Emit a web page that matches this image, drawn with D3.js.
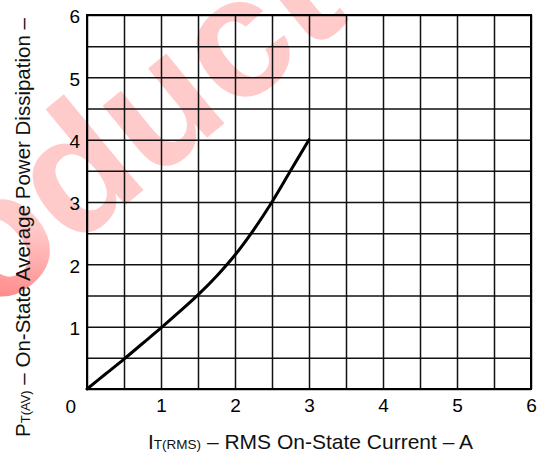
<!DOCTYPE html>
<html>
<head>
<meta charset="utf-8">
<script src="https://cdn.jsdelivr.net/npm/d3@7"></script>
<style>
  body { margin: 0; background: #fff; }
  svg { display: block; font-family: "Liberation Sans", Arial, sans-serif; }
</style>
</head>
<body>
<svg width="539" height="460"></svg>
<script>
// curve: RMS on-state current (A) vs average power (W)
const current = [0, 0.25, 0.5, 0.75, 1, 1.25, 1.5, 1.75, 2, 2.25, 2.5, 2.75, 3];
const power = [0, 0.24, 0.48, 0.73, 0.98, 1.24, 1.51, 1.81, 2.15, 2.55, 3.0, 3.5, 4.0];

const xTickLabels = [1, 2, 3, 4, 5, 6];
const yTickLabels = [1, 2, 3, 4, 5, 6];
const gridSteps = d3.range(0, 6.01, 0.5);

const svg = d3.select("svg");
const width = 539;
const height = 460;

const margin = { top: 15, right: 8, bottom: 71, left: 87 };
const innerWidth = width - margin.left - margin.right;
const innerHeight = height - margin.top - margin.bottom;

const data = current.map((c, i) => ({ c, p: power[i] }));

const xScale = d3.scaleLinear().domain([0, 6]).range([0, innerWidth]);
const yScale = d3.scaleLinear().domain([0, 6]).range([innerHeight, 0]);

// red watermark behind the chart
const grad = svg.append("defs").append("linearGradient")
  .attr("id", "wm")
  .attr("gradientUnits", "userSpaceOnUse")
  .attr("x1", 0).attr("y1", 280).attr("x2", 310).attr("y2", 0);
grad.append("stop").attr("offset", 0).attr("stop-color", "#ff3030");
grad.append("stop").attr("offset", 0.5).attr("stop-color", "#ff1a1a");
grad.append("stop").attr("offset", 1).attr("stop-color", "#ffcaca");

svg.append("text")
  .attr("transform", "translate(-150,432) rotate(-39.5)")
  .attr("font-size", 172)
  .attr("font-weight", "bold")
  .attr("fill", "url(#wm)")
  .text("Product");

const g = svg.append("g")
  .attr("transform", `translate(${margin.left},${margin.top})`);

// grid every 0.5
const xGrid = g.append("g")
  .attr("transform", `translate(0,${innerHeight})`)
  .call(d3.axisBottom(xScale).tickValues(gridSteps).tickSize(-innerHeight).tickFormat(""));
const yGrid = g.append("g")
  .call(d3.axisLeft(yScale).tickValues(gridSteps).tickSize(-innerWidth).tickFormat(""));

[xGrid, yGrid].forEach(a => {
  a.select(".domain").remove();
  a.selectAll(".tick line")
    .attr("stroke", "#111")
    .attr("stroke-width", 1.5);
});

// frame
g.append("rect")
  .attr("width", innerWidth)
  .attr("height", innerHeight)
  .attr("fill", "none")
  .attr("stroke", "#000")
  .attr("stroke-width", 2);

// tick labels
const xAxisG = g.append("g")
  .attr("transform", `translate(0,${innerHeight})`)
  .call(d3.axisBottom(xScale).tickValues(xTickLabels).tickSize(0).tickPadding(10).tickFormat(d3.format("d")));
const yAxisG = g.append("g")
  .call(d3.axisLeft(yScale).tickValues(yTickLabels).tickSize(0).tickPadding(7).tickFormat(d3.format("d")));

[xAxisG, yAxisG].forEach(a => {
  a.select(".domain").remove();
  a.selectAll("text")
    .attr("font-family", "Liberation Sans, Arial, sans-serif")
    .attr("font-size", 19)
    .attr("fill", "#000");
});
yAxisG.selectAll("text").attr("dy", "0.42em");

// shared origin label
g.append("text")
  .attr("x", -11)
  .attr("y", innerHeight + 24)
  .attr("text-anchor", "end")
  .attr("font-size", 19)
  .text("0");

// the curve
const line = d3.line()
  .x(d => xScale(d.c))
  .y(d => yScale(d.p))
  .curve(d3.curveCatmullRom);

g.append("path")
  .datum(data)
  .attr("d", line)
  .attr("fill", "none")
  .attr("stroke", "#000")
  .attr("stroke-width", 3)
  .attr("stroke-linecap", "round");

// axis titles
const xTitle = svg.append("text")
  .attr("x", 148)
  .attr("y", 449)
  .attr("font-size", 21)
  .attr("fill", "#111");
xTitle.append("tspan").text("I");
xTitle.append("tspan").attr("font-size", 13.5).text("T(RMS)");
xTitle.append("tspan").text(" \u2013 RMS On-State Current \u2013 A");

const yTitle = svg.append("text")
  .attr("transform", "translate(30,437) rotate(-90)")
  .attr("font-size", 20.5)
  .attr("fill", "#111");
yTitle.append("tspan").text("P");
yTitle.append("tspan").attr("font-size", 13).text("T(AV)");
yTitle.append("tspan").text(" \u2013 On-State Average Power Dissipation \u2013");
</script>
</body>
</html>
